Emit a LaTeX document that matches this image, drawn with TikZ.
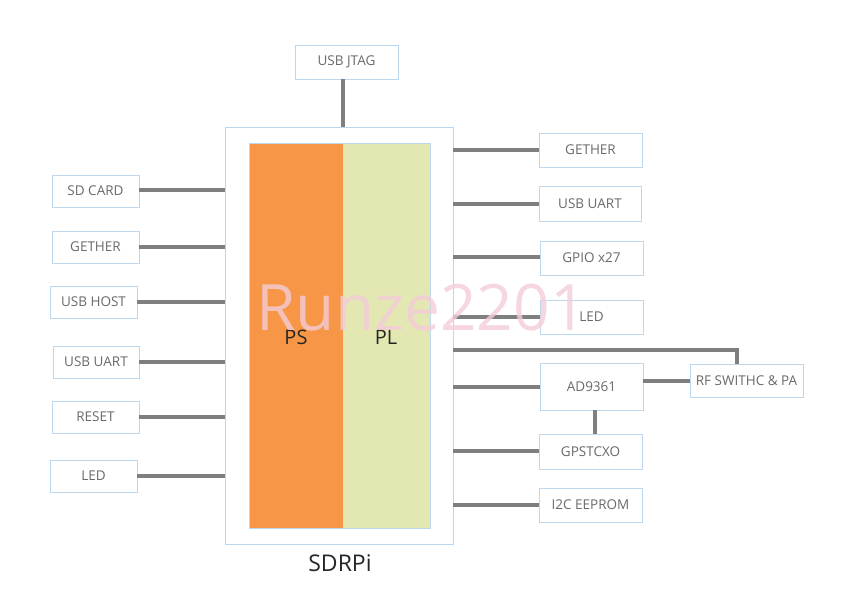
\documentclass[tikz,border=0pt]{standalone}
\usepackage{fontspec}
\setmainfont{Open Sans}
\definecolor{boxline}{HTML}{BDD7EE}
\definecolor{conn}{HTML}{7F7F7F}
\definecolor{txt}{HTML}{6A6A6A}
\definecolor{psfill}{HTML}{F79646}
\definecolor{plfill}{HTML}{E3E8B3}
\definecolor{wm}{HTML}{F4CCD8}
\tikzset{
  blk/.style={draw=boxline, line width=0.9pt, fill=white, text=txt, font=\fontsize{13.5}{15}\selectfont, inner sep=0pt},
  wire/.style={draw=conn, line width=3.6pt},
}
\begin{document}
\begin{tikzpicture}[x=1pt,y=-1pt]
\useasboundingbox (0,0) rectangle (845,610);
% main board
\node[draw=boxline, line width=0.9pt, minimum width=228pt, minimum height=417pt, inner sep=0pt] (board) at (339,335.5) {};
\node[fill=psfill, minimum width=94pt, minimum height=385pt, inner sep=0pt] (ps) at (296,335.5) {};
\node[fill=plfill, minimum width=87pt, minimum height=385pt, inner sep=0pt] (pl) at (386.5,335.5) {};
\draw[boxline, line width=0.8pt] (249,143) rectangle (430,528);
\node[font=\fontsize{20}{22}\selectfont, text=black!85] (pslab) at (296,337) {PS};
\node[font=\fontsize{20}{22}\selectfont, text=black!85] (pllab) at (386,337) {PL};
\node[font=\fontsize{23}{26}\selectfont, text=black!85] (title) at (340,563) {SDRPi};
% top
\node[blk, minimum width=103pt, minimum height=34pt] (jtag) at (346.5,62) {USB JTAG};
\draw[wire] (jtag.south -| 343,0) -- (343,127);
% left boxes
\node[blk, minimum width=87pt, minimum height=32pt] (l1) at (95.5,191) {SD CARD};
\node[blk, minimum width=87pt, minimum height=32pt] (l2) at (95.5,247) {GETHER};
\node[blk, minimum width=87pt, minimum height=32pt] (l3) at (93.5,302) {USB HOST};
\node[blk, minimum width=86pt, minimum height=32pt] (l4) at (96,362) {USB UART};
\node[blk, minimum width=87pt, minimum height=32pt] (l5) at (95.5,417) {RESET};
\node[blk, minimum width=87pt, minimum height=32pt] (l6) at (93.5,476) {LED};
\foreach \n/\y in {l1/190,l2/247,l3/302,l4/362,l5/417,l6/476}
  \draw[wire] (\n.east |- 0,\y) -- (board.west |- 0,\y);
% right boxes
\node[blk, minimum width=103pt, minimum height=34pt] (r1) at (590.5,150) {GETHER};
\node[blk, minimum width=102pt, minimum height=35pt] (r2) at (590,203.5) {USB UART};
\node[blk, minimum width=103pt, minimum height=34pt] (r3) at (591.5,258) {GPIO x27};
\node[blk, minimum width=103pt, minimum height=34pt] (r4) at (591.5,317) {LED};
\node[blk, minimum width=103pt, minimum height=47pt] (ad) at (591.5,386.5) {AD9361};
\node[blk, minimum width=113pt, minimum height=33pt] (rf) at (746.5,381) {RF SWITHC \& PA};
\node[blk, minimum width=103pt, minimum height=35pt] (gps) at (590.5,451.5) {GPSTCXO};
\node[blk, minimum width=103pt, minimum height=34pt] (ee) at (590.5,505) {I2C EEPROM};
\foreach \n/\y in {r1/150,r2/204,r3/257,r4/317,ad/387,gps/451,ee/505}
  \draw[wire] (board.east |- 0,\y) -- (\n.west |- 0,\y);
\draw[wire] (board.east |- 0,350) -- (737,350) -- (rf.north -| 737,0);
\draw[wire] (ad.east |- 0,381) -- (rf.west |- 0,381);
\draw[wire] (ad.south -| 595,0) -- (gps.north -| 595,0);
% watermark
\node[text=wm, text opacity=0.8, font=\fontsize{64}{70}\selectfont, anchor=base west, inner sep=0pt] (wmark) at (256,330) {Runze2201};
\end{tikzpicture}
\end{document}
